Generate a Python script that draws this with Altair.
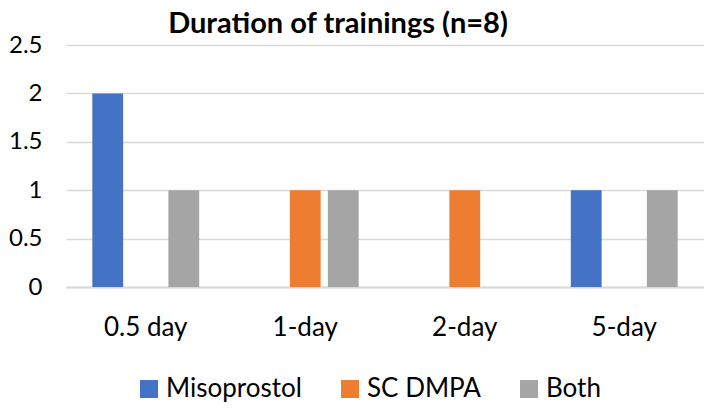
import altair as alt
import pandas as pd

categories = ["0.5 day", "1-day", "2-day", "5-day"]
series = ["Misoprostol", "SC DMPA", "Both"]
misoprostol = [2, 0, 0, 1]
sc_dmpa = [0, 1, 1, 0]
both = [1, 1, 0, 1]
colors = ["#4472C4", "#ED7D31", "#A5A5A5"]

rows = []
for name, vals in zip(series, [misoprostol, sc_dmpa, both]):
    for c, v in zip(categories, vals):
        rows.append({"Duration": c, "Type": name, "Count": v})
df = pd.DataFrame(rows)

FONT = "Lato"

chart = alt.Chart(df).mark_bar().encode(
    x=alt.X("Duration:N", sort=categories,
            scale=alt.Scale(paddingInner=0.33, paddingOuter=0.165),
            axis=alt.Axis(title=None, labelAngle=0, labelFontSize=26, labelFont=FONT,
                          labelColor="#000000", labelPadding=27, ticks=False,
                          domain=True, domainColor="#D9D9D9", domainWidth=2)),
    xOffset=alt.XOffset("Type:N", sort=series,
                        scale=alt.Scale(domain=series, paddingInner=0.19, paddingOuter=0)),
    y=alt.Y("Count:Q", scale=alt.Scale(domain=[0, 2.5]),
            axis=alt.Axis(title=None, values=[0, 0.5, 1, 1.5, 2, 2.5], format="~g",
                          labelFontSize=24,
                          labelFont=FONT, labelColor="#000000", labelPadding=24,
                          ticks=False, domain=False, gridColor="#D9D9D9", gridWidth=1.5)),
    color=alt.Color("Type:N", sort=series,
                    scale=alt.Scale(domain=series, range=colors),
                    legend=alt.Legend(title=None, orient="none", legendX=70, legendY=331,
                                      direction="horizontal", columns=3,
                                      symbolType="square", symbolSize=324,
                                      symbolStrokeWidth=0,
                                      labelFontSize=26, labelFont=FONT,
                                      labelColor="#000000", labelOffset=4,
                                      columnPadding=35)),
).properties(
    width=638, height=242,
    title=alt.TitleParams("Duration of trainings (n=8)", fontSize=29, font=FONT,
                          fontWeight="bold", color="#000000", dx=-47, offset=-6),
    padding={"left": 58, "top": 37, "right": 0, "bottom": 116},
    autosize=alt.AutoSizeParams(type="none"),
).configure_view(stroke=None)

chart.save("out.html", embed_options={"renderer": "svg", "actions": False})
